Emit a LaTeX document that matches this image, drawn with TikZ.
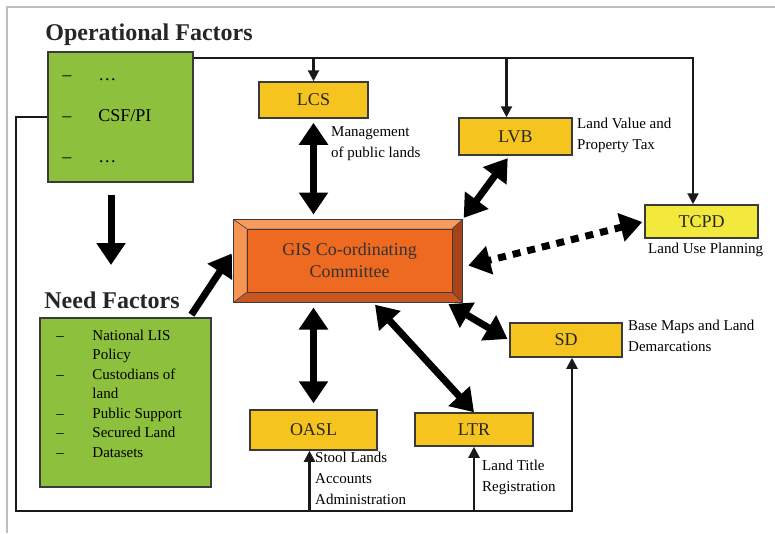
\documentclass[tikz,border=0pt]{standalone}
\usepackage{fontspec}
\setmainfont{Liberation Serif}
\usepackage{tikz}
\usetikzlibrary{arrows.meta, positioning, calc}

\definecolor{ofgreen}{HTML}{8DC03C}
\definecolor{boxgold}{HTML}{F5C41E}
\definecolor{boxlemon}{HTML}{F2E93C}
\definecolor{gisorange}{HTML}{EF6A21}
\definecolor{gislight}{HTML}{F79B5C}
\definecolor{gisdark}{HTML}{A8421A}
\definecolor{gismid}{HTML}{C9561E}
\definecolor{edgegray}{HTML}{3A3A3A}
\definecolor{framegray}{HTML}{BDBDBD}

\begin{document}
\begin{tikzpicture}[x=1pt, y=-1pt, >=Triangle, every node/.style={align=center},
    heading/.style={font=\bfseries\fontsize{24}{26}\selectfont, text=black!85},
    factorbox/.style={draw=edgegray, line width=1.5pt, fill=ofgreen, inner sep=0pt},
    agency/.style={draw=edgegray, line width=1.5pt, fill=boxgold, minimum height=36pt, inner sep=0pt, font=\fontsize{18}{20}\selectfont, text=black!85},
    note/.style={anchor=north west, align=left, inner sep=0pt, font=\fontsize{15}{21}\selectfont},
    bigarrow/.style={line width=7pt, {Triangle[length=22pt,width=28pt]}-{Triangle[length=22pt,width=28pt]}},
    onearrow/.style={line width=7pt, -{Triangle[length=22pt,width=28pt]}},
    feed/.style={line width=2.2pt, draw=black!90, -{Triangle[length=11pt,width=11pt]}}]
  \useasboundingbox (0,0) rectangle (775,533);
  \draw[framegray, line width=1.5pt] (7,533) -- (7,7) -- (775,7);

  % headings
  \node[heading] (ophead) at (149,35) {Operational Factors};
  \node[heading] (needhead) at (112,300) {Need Factors};

  % factor boxes
  \node[factorbox, minimum width=145pt, minimum height=130pt] (of) at (120.5,117) {};
  \node[anchor=west, inner sep=0pt, align=left, font=\fontsize{18}{20}\selectfont] (oflist) at ($(of.west)+(15,0)$)
    {\begin{tabular}{@{}p{36pt}@{}l@{}}
      -- & \dots \\[21pt]
      -- & CSF/PI \\[21pt]
      -- & \dots
    \end{tabular}};
  \node[factorbox, minimum width=171pt, minimum height=169pt] (nf) at (125.5,402.5) {};
  \node[anchor=north west, inner sep=0pt, align=left, font=\fontsize{15}{19.5}\selectfont] (nflist) at ($(nf.north west)+(17,9)$)
    {\begin{tabular}{@{}p{36pt}@{}l@{}}
      -- & National LIS \\
         & Policy \\
      -- & Custodians of \\
         & land \\
      -- & Public Support \\
      -- & Secured Land \\
      -- & Datasets
    \end{tabular}};

  % committee
  \node[draw=edgegray, line width=1pt, fill=gismid, minimum width=228pt, minimum height=82pt, inner sep=0pt] (gis) at (348,261) {};
  \fill[gisdark] (gis.north east) -- (gis.south east) -- ($(gis.south east)+(-10,-10)$) -- ($(gis.north east)+(-10,9)$) -- cycle;
  \fill[gislight] (gis.north west) -- (gis.north east) -- ($(gis.north east)+(-10,9)$) -- ($(gis.north west)+(13,9)$) -- cycle;
  \fill[gislight!85!gisorange] (gis.north west) -- ($(gis.north west)+(13,9)$) -- ($(gis.south west)+(13,-10)$) -- (gis.south west) -- cycle;
  \draw[edgegray, line width=1pt] (gis.north west) rectangle (gis.south east);
  \node[draw=edgegray, line width=0.8pt, fill=gisorange, minimum width=205pt, minimum height=63pt, inner sep=0pt,
        font=\fontsize{18}{22}\selectfont, text=black!80] (gisin) at ($(gis.center)+(1.5,-0.5)$) {GIS Co-ordinating\\Committee};
  \draw[edgegray, line width=0.6pt] (gis.north west) -- (gisin.north west) (gis.north east) -- (gisin.north east)
    (gis.south west) -- (gisin.south west) (gis.south east) -- (gisin.south east);

  % agencies
  \node[agency, minimum width=109pt] (lcs) at (313.5,100) {LCS};
  \node[agency, minimum width=113pt, minimum height=37pt] (lvb) at (515.5,136.5) {LVB};
  \node[agency, fill=boxlemon, minimum width=113pt, minimum height=33pt] (tcpd) at (701.5,221.5) {TCPD};
  \node[agency, minimum width=112pt, minimum height=34pt] (sd) at (566,340) {SD};
  \node[agency, minimum width=118pt, minimum height=33pt] (ltr) at (474,429.5) {LTR};
  \node[agency, minimum width=127pt, minimum height=40pt] (oasl) at (313.5,430) {OASL};

  % notes
  \node[note] (lcsnote) at (331,126) {Management\\of public lands};
  \node[note] (lvbnote) at (577,118) {Land Value and\\Property Tax};
  \node[note] (tcpdnote) at (648,243) {Land Use Planning};
  \node[note] (sdnote) at (628,320) {Base Maps and Land\\Demarcations};
  \node[note] (oaslnote) at (315,452) {Stool Lands\\Accounts\\Administration};
  \node[note] (ltrnote) at (482,460) {Land Title\\Registration};

  % feed lines
  \coordinate (topright) at (693,58);
  \coordinate (botleft) at (16,511);
  \coordinate (botright) at (572,511);
  \draw[feed] (of.east |- topright) -- (topright) -- (topright |- tcpd.north);
  \draw[feed] (lcs.north |- topright) -- (lcs.north);
  \draw[feed] ([xshift=-9pt]lvb.north |- topright) -- ([xshift=-9pt]lvb.north);
  \draw[feed] (of.west) -- (of.west -| botleft) -- (botleft) -- (botright) -- (botright |- sd.south);
  \draw[feed] ([xshift=-4pt]oasl.south |- botleft) -- ([xshift=-4pt]oasl.south);
  \draw[feed] (ltr.south |- botleft) -- (ltr.south);

  % links to the committee
  \draw[bigarrow, shorten <=4pt, shorten >=5pt] (lcs.south) -- (lcs.south |- gis.north);
  \draw[bigarrow, shorten <=3pt, shorten >=2pt] ([xshift=-6pt]lvb.south) -- (gis.north east);
  \draw[bigarrow, dash pattern=on 8pt off 7pt, shorten <=2pt, shorten >=6pt] (tcpd.west) -- (gis.-3);
  \draw[bigarrow, shorten <=2pt, shorten >=3pt] (sd.west) -- (gis.-23);
  \draw[bigarrow, shorten >=3pt] (ltr.north) -- (gis.-59);
  \draw[bigarrow, shorten <=6pt, shorten >=5pt] (oasl.north) -- (oasl.north |- gis.south);
  \draw[onearrow, shorten <=3pt, shorten >=3pt] ([xshift=-22pt]nf.north east) -- (gis.175);
  \coordinate (needtip) at (111,265);
  \draw[onearrow, shorten <=12pt] (of.south -| needtip) -- (needtip);
\end{tikzpicture}
\end{document}
